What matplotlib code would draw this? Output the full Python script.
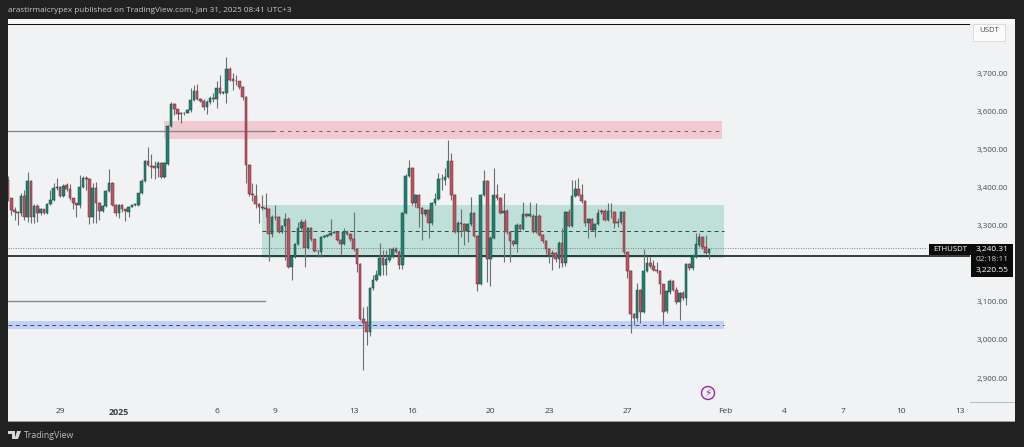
import matplotlib
matplotlib.use('Agg')
import matplotlib.pyplot as plt
from matplotlib.patches import Rectangle, Polygon, Circle

W, H = 1024, 447

# 4h candles, prices
opens = [3420, 3372, 3341, 3335, 3333, 3377, 3324, 3418, 3324, 3353,
         3333, 3343, 3333, 3357, 3368, 3398, 3401, 3379, 3407, 3396,
         3372, 3359, 3355, 3401, 3425, 3422, 3324, 3398, 3359, 3338,
         3352, 3391, 3412, 3354, 3334, 3354, 3343, 3337, 3350, 3354,
         3355, 3385, 3418, 3470, 3458, 3456, 3453, 3466, 3429, 3462,
         3562, 3620, 3606, 3596, 3595, 3597, 3604, 3630, 3654, 3633,
         3629, 3611, 3626, 3635, 3632, 3661, 3648, 3650, 3712, 3685,
         3681, 3679, 3664, 3637, 3460, 3383, 3379, 3357, 3350, 3346,
         3344, 3278, 3324, 3322, 3284, 3299, 3318, 3192, 3219, 3252,
         3293, 3309, 3242, 3293, 3264, 3234, 3232, 3271, 3273, 3276,
         3282, 3284, 3262, 3251, 3284, 3278, 3264, 3240, 3199, 3055,
         3048, 3022, 3136, 3157, 3170, 3214, 3198, 3210, 3221, 3239,
         3232, 3197, 3333, 3431, 3451, 3359, 3381, 3347, 3330, 3342,
         3306, 3359, 3370, 3422, 3419, 3429, 3470, 3381, 3284, 3308,
         3304, 3286, 3304, 3333, 3273, 3147, 3381, 3418, 3212, 3269,
         3381, 3372, 3334, 3339, 3283, 3260, 3252, 3302, 3291, 3330,
         3326, 3326, 3284, 3326, 3276, 3260, 3238, 3229, 3229, 3212,
         3256, 3203, 3335, 3300, 3378, 3396, 3381, 3365, 3306, 3317,
         3289, 3305, 3339, 3339, 3315, 3340, 3335, 3310, 3311, 3337,
         3230, 3182, 3068, 3057, 3131, 3074, 3181, 3201, 3195, 3184,
         3181, 3146, 3076, 3127, 3155, 3131, 3099, 3124, 3111, 3199,
         3188, 3219, 3250, 3270, 3245, 3229]
closes = [3372, 3341, 3335, 3333, 3377, 3324, 3418, 3324, 3353, 3333,
          3343, 3333, 3357, 3368, 3398, 3401, 3379, 3405, 3396, 3372,
          3359, 3355, 3401, 3425, 3422, 3322, 3398, 3359, 3338, 3352,
          3391, 3412, 3355, 3334, 3354, 3343, 3338, 3350, 3354, 3357,
          3385, 3418, 3470, 3460, 3455, 3453, 3466, 3429, 3465, 3562,
          3620, 3606, 3594, 3593, 3597, 3604, 3630, 3654, 3633, 3629,
          3611, 3626, 3635, 3632, 3661, 3650, 3652, 3712, 3683, 3681,
          3679, 3664, 3638, 3460, 3383, 3380, 3357, 3350, 3346, 3344,
          3278, 3324, 3322, 3284, 3299, 3318, 3192, 3219, 3252, 3293,
          3309, 3242, 3293, 3264, 3234, 3233, 3271, 3273, 3276, 3282,
          3284, 3262, 3251, 3284, 3278, 3264, 3240, 3199, 3056, 3045,
          3022, 3136, 3157, 3170, 3216, 3198, 3212, 3221, 3239, 3232,
          3197, 3333, 3431, 3451, 3359, 3381, 3347, 3330, 3342, 3306,
          3359, 3370, 3422, 3424, 3429, 3470, 3381, 3284, 3308, 3304,
          3286, 3304, 3333, 3273, 3147, 3381, 3418, 3213, 3269, 3381,
          3372, 3334, 3339, 3283, 3260, 3252, 3302, 3291, 3330, 3326,
          3330, 3284, 3326, 3276, 3260, 3238, 3223, 3225, 3212, 3256,
          3203, 3335, 3300, 3378, 3396, 3381, 3366, 3306, 3317, 3289,
          3305, 3334, 3335, 3315, 3339, 3338, 3308, 3308, 3337, 3230,
          3182, 3068, 3057, 3131, 3074, 3181, 3201, 3195, 3184, 3180,
          3146, 3074, 3128, 3156, 3131, 3099, 3124, 3111, 3199, 3188,
          3219, 3251, 3270, 3245, 3229, 3240]
highs = [3430, 3374, 3350, 3340, 3385, 3394, 3442, 3420, 3358, 3357,
         3346, 3345, 3360, 3394, 3412, 3426, 3405, 3410, 3412, 3410,
         3374, 3361, 3433, 3431, 3431, 3425, 3412, 3416, 3362, 3355,
         3395, 3448, 3414, 3356, 3356, 3356, 3345, 3353, 3356, 3360,
         3387, 3422, 3472, 3508, 3489, 3470, 3470, 3468, 3467, 3565,
         3626, 3622, 3608, 3598, 3600, 3607, 3661, 3670, 3672, 3636,
         3632, 3630, 3642, 3648, 3680, 3696, 3655, 3743, 3716, 3700,
         3696, 3679, 3666, 3640, 3462, 3412, 3411, 3360, 3382, 3385,
         3346, 3327, 3354, 3325, 3303, 3334, 3322, 3221, 3255, 3310,
         3319, 3319, 3296, 3296, 3266, 3236, 3274, 3276, 3278, 3318,
         3287, 3287, 3264, 3293, 3288, 3280, 3337, 3242, 3201, 3087,
         3089, 3138, 3170, 3184, 3254, 3236, 3236, 3241, 3245, 3245,
         3235, 3336, 3435, 3473, 3455, 3384, 3384, 3350, 3345, 3345,
         3362, 3385, 3438, 3435, 3451, 3525, 3490, 3384, 3312, 3344,
         3308, 3306, 3376, 3336, 3276, 3384, 3446, 3420, 3272, 3452,
         3411, 3375, 3387, 3343, 3286, 3263, 3306, 3305, 3363, 3333,
         3363, 3330, 3359, 3330, 3278, 3263, 3241, 3235, 3232, 3260,
         3293, 3338, 3343, 3420, 3420, 3425, 3411, 3368, 3320, 3320,
         3308, 3343, 3345, 3343, 3359, 3359, 3340, 3320, 3340, 3340,
         3232, 3185, 3071, 3149, 3135, 3238, 3220, 3219, 3210, 3206,
         3184, 3148, 3131, 3160, 3158, 3140, 3127, 3128, 3202, 3202,
         3225, 3280, 3280, 3273, 3277, 3240]
lows = [3365, 3328, 3315, 3302, 3325, 3315, 3311, 3306, 3306, 3309,
        3328, 3330, 3331, 3355, 3366, 3395, 3375, 3376, 3390, 3368,
        3343, 3324, 3346, 3399, 3394, 3304, 3307, 3308, 3315, 3336,
        3350, 3389, 3353, 3325, 3320, 3335, 3313, 3324, 3348, 3352,
        3353, 3384, 3416, 3458, 3425, 3422, 3429, 3425, 3425, 3460,
        3560, 3591, 3578, 3571, 3590, 3595, 3600, 3628, 3630, 3625,
        3605, 3593, 3620, 3625, 3609, 3645, 3645, 3622, 3681, 3657,
        3670, 3660, 3630, 3412, 3378, 3365, 3346, 3306, 3342, 3324,
        3207, 3270, 3315, 3280, 3280, 3210, 3190, 3157, 3215, 3250,
        3290, 3192, 3238, 3260, 3230, 3219, 3217, 3268, 3270, 3274,
        3280, 3260, 3223, 3249, 3275, 3260, 3234, 3179, 3053, 2921,
        2987, 3010, 3130, 3155, 3168, 3170, 3170, 3205, 3215, 3228,
        3186, 3186, 3330, 3428, 3355, 3350, 3298, 3263, 3325, 3267,
        3303, 3355, 3368, 3394, 3407, 3425, 3368, 3280, 3227, 3271,
        3249, 3258, 3300, 3270, 3129, 3145, 3378, 3153, 3142, 3266,
        3368, 3330, 3206, 3278, 3206, 3248, 3232, 3288, 3288, 3322,
        3322, 3280, 3280, 3272, 3256, 3227, 3203, 3185, 3205, 3188,
        3192, 3195, 3296, 3296, 3375, 3378, 3360, 3300, 3267, 3285,
        3271, 3302, 3330, 3312, 3312, 3320, 3293, 3298, 3305, 3225,
        3162, 3019, 3040, 3050, 3045, 3070, 3178, 3190, 3180, 3175,
        3122, 3039, 3070, 3120, 3128, 3095, 3052, 3105, 3092, 3184,
        3185, 3215, 3245, 3240, 3225, 3212]

price_ticks = [3700, 3600, 3500, 3400, 3300, 3100, 3000, 2900]
date_labels = ['29', '2025', '6', '9', '13', '16', '20', '23', '27', 'Feb', '4', '7', '10', '13']
date_days = [-3, 0, 5, 8, 12, 15, 19, 22, 26, 31, 34, 37, 40, 43]
bars_per_day = 6
jan1_bar = 34

last_price = 3240.31
line_price = 3220.55
supply_zone = (3528, 3575, 3550)
range_zone = (3215, 3355, 3286)
demand_zone = (3028, 3051, 3040)
old_level = 3102

UP = '#23806c'
DOWN = '#bb5561'
UP_EDGE = '#114f43'
DOWN_EDGE = '#702b35'
WICK = '#6a6f72'
BG = '#f0f2f4'
DARK = '#212121'


def fx(px):
    return px / W


def fy(py):
    return 1 - py / H


def box(x0, y0, x1, y1, zorder=-1, **kw):
    fig.patches.append(Rectangle((fx(x0), fy(y1)), (x1 - x0) / W, (y1 - y0) / H,
                                 transform=fig.transFigure, linewidth=0, zorder=zorder, **kw))


plt.rcParams['font.family'] = ['Open Sans', 'DejaVu Sans']
fig = plt.figure(figsize=(W / 100, H / 100), dpi=100, facecolor=DARK)
box(8, 19, 1015, 422, facecolor='#f7f8f9')
box(8, 24, 1015, 421, facecolor=BG)
box(8, 24, 970, 25.5, facecolor='#111111')
box(970, 402, 1015, 403, facecolor='#b8bbbf')
box(8, 421, 1015, 422, facecolor='#9a9da1')

ax = fig.add_axes([fx(8), fy(402), (970 - 8) / W, (402 - 25) / H], facecolor=BG, zorder=1)
ax.set_xlim(0, 295.1)
ax.set_ylim(2837, 3827.4)
for s in ax.spines.values():
    s.set_visible(False)

# zones
ax.axhspan(supply_zone[0], supply_zone[1], xmin=47.9 / 295.1, xmax=219 / 295.1, color='#f3c9d1', lw=0, zorder=1)
ax.axhspan(range_zone[0], range_zone[1], xmin=78 / 295.1, xmax=219.6 / 295.1, color='#bfe0d8', lw=0, zorder=1)
ax.axhspan(demand_zone[0], demand_zone[1], xmin=0, xmax=219.6 / 295.1, color='#c3d1f6', lw=0, zorder=1)

# levels
ax.plot([0, 81], [supply_zone[2]] * 2, color='#85888c', lw=1, zorder=2)
ax.plot([81, 219], [supply_zone[2]] * 2, color='#7a5a60', lw=0.7, ls=(0, (3.5, 4.5)), zorder=2)
ax.plot([78, 219.6], [range_zone[2]] * 2, color='#2a4a44', lw=0.7, ls=(0, (4, 3.5)), zorder=2)
ax.plot([0, 219.6], [demand_zone[2]] * 2, color='#3a4a72', lw=0.7, ls=(0, (4, 3.5)), zorder=2)
ax.plot([0, 78.8], [old_level] * 2, color='#85888c', lw=1, zorder=2)
ax.axhline(line_price, color='#10201c', lw=1.2, zorder=2)
ax.plot([0, 282], [last_price] * 2, color='#7d8185', lw=0.7, ls=(0, (1, 1.5)), zorder=2)

# candles
xs = list(range(len(opens)))
colors = [UP if c >= o else DOWN for o, c in zip(opens, closes)]
edges = [UP_EDGE if c >= o else DOWN_EDGE for o, c in zip(opens, closes)]
ax.vlines(xs, lows, highs, color=WICK, lw=0.8, zorder=3)
ax.bar(xs, [c - o for o, c in zip(opens, closes)], bottom=opens, width=0.8,
       color=colors, edgecolor=edges, linewidth=0.35, zorder=4)

# axes
ax.set_xticks([jan1_bar + d * bars_per_day for d in date_days], date_labels)
ax.tick_params(axis='x', length=0, pad=4.4, labelsize=6, labelcolor='#3a3d42')
year_label = ax.get_xticklabels()[date_labels.index('2025')]
year_label.set_fontweight('bold')
year_label.set_fontsize(6.4)
ax.yaxis.tick_right()
ax.set_yticks(price_ticks, [f'{p:,.2f}' for p in price_ticks])
ax.tick_params(axis='y', length=0, pad=4.5, labelsize=5.8, labelcolor='#4a4d52')

# lightning marker
fig.patches.append(Circle((708, H - 393), 6.5, transform=None, fill=False, edgecolor='#9c27b0', linewidth=1, zorder=2))
fig.text(fx(708), fy(393), '\u26a1', color='#9c27b0', fontsize=7.5, ha='center', va='center')

# last price labels
box(929, 244, 971, 255, zorder=2, facecolor='#0a0a0a')
box(971, 244, 1013, 277, zorder=2, facecolor='#0a0a0a')
fig.text(fx(950), fy(249.7), 'ETHUSDT', color='white', fontsize=5.6, ha='center', va='center')
fig.text(fx(992), fy(249.7), f'{last_price:,.2f}', color='white', fontsize=6, ha='center', va='center')
fig.text(fx(992), fy(259.3), '02:18:11', color='#c8c8c8', fontsize=6, ha='center', va='center')
fig.text(fx(992), fy(270.7), f'{line_price:,.2f}', color='white', fontsize=6, ha='center', va='center')

# currency box
fig.patches.append(Rectangle((973, H - 41), 32, 17, transform=None, facecolor='#fbfbfc',
                             edgecolor='#d6d8db', linewidth=0.6, zorder=2))
fig.text(fx(989), fy(31), 'USDT', color='#4a4d52', fontsize=5.6, ha='center', va='center')

# header and footer
fig.text(fx(7.5), fy(11), 'arastirmaicrypex published on TradingView.com, Jan 31, 2025 08:41 UTC+3',
         color='#c9c9c9', fontsize=5.9, ha='left', va='center')
logo = [[(8, 431), (15, 431), (15, 439), (11.5, 439), (11.5, 434), (8, 434)],
        [(17, 431), (21, 431), (18, 439), (14.5, 439)]]
for pts in logo:
    fig.patches.append(Polygon([(x, H - y) for x, y in pts], transform=None, facecolor='#d8d8d8', linewidth=0, zorder=2))
fig.text(fx(24), fy(435), 'TradingView', color='#bdbdbd', fontsize=6.3, ha='left', va='center')

fig.savefig('out.png', dpi=100, facecolor=fig.get_facecolor())
